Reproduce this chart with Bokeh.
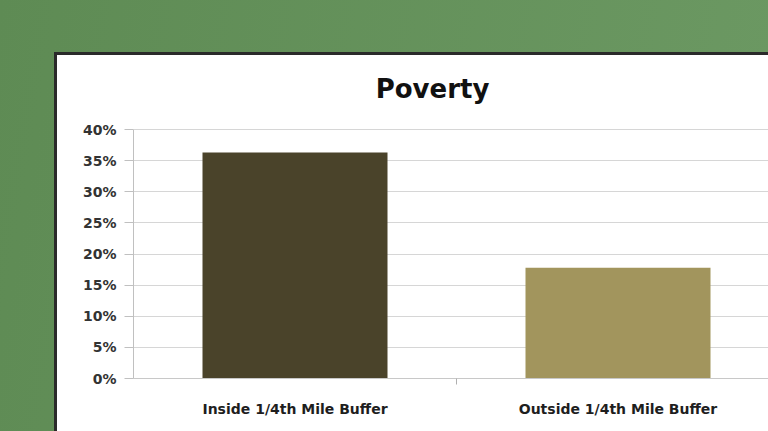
from bokeh.plotting import figure
from bokeh.layouts import column
from bokeh.models import (ColumnDataSource, FixedTicker, NumeralTickFormatter,
                          Range1d, Label)
from bokeh.embed import file_html
from bokeh.resources import INLINE

# ---- data ----
categories = ["Inside 1/4th Mile Buffer", "Outside 1/4th Mile Buffer"]
poverty = [0.363, 0.178]
bar_colors = ["#4a432a", "#a2955d"]
y_ticks = [0.0, 0.05, 0.10, 0.15, 0.20, 0.25, 0.30, 0.35, 0.40]
title_text = "Poverty"

# ---- layout constants ----
W, H = 768, 431
BOX_L, BOX_T = 54, 52          # dark edge of the white slide box
EDGE = 3
FIG_W, FIG_H = W - BOX_L, H - BOX_T
CAT_PX = 323.0                 # pixels per category slot
AXIS_X, Y40, Y0 = 133, 129, 378  # page pixels of the y axis, 40% line, 0% line
TITLE_Y = 88                   # page pixel used to place the title label
FRAME_L = AXIS_X - (BOX_L + EDGE)
FRAME_B = (BOX_T + EDGE + FIG_H) - Y0
frame_h = Y0 - (BOX_T + EDGE)
y_top = 0.40 * frame_h / (Y0 - Y40)
x_end = (FIG_W - FRAME_L) / CAT_PX

FONT = "DejaVu Sans"

x_pos = [i + 0.5 for i in range(len(categories))]
src = ColumnDataSource(dict(x=x_pos, top=poverty, color=bar_colors, name=categories))

p = figure(width=FIG_W, height=FIG_H, output_backend="svg", toolbar_location=None,
           x_range=Range1d(0, x_end), y_range=Range1d(0, y_top),
           min_border_left=FRAME_L, min_border_right=0,
           min_border_top=0, min_border_bottom=FRAME_B)
p.border_fill_color = "white"
p.background_fill_color = "white"
p.outline_line_color = None
p.margin = (BOX_T, 0, 0, BOX_L)
p.styles = {"border-left": f"{EDGE}px solid #2a2a2a",
            "border-top": f"{EDGE}px solid #2a2a2a",
            "background-color": "white"}

p.vbar(x="x", top="top", width=185 / CAT_PX, color="color", source=src,
       line_color=None)

# title, drawn as a label above the 40% line
p.add_layout(Label(x=(432 - AXIS_X) / CAT_PX, y=0.40 * (Y0 - TITLE_Y) / (Y0 - Y40),
                   text=title_text, text_align="center", text_baseline="alphabetic",
                   text_font=FONT, text_font_style="bold", text_font_size="26px",
                   text_color="#111111"))

# y axis
p.yaxis.ticker = FixedTicker(ticks=y_ticks)
p.yaxis.bounds = (0, 0.40)
p.yaxis.formatter = NumeralTickFormatter(format="0%")
p.yaxis.axis_line_color = "#c0c0c0"
p.yaxis.major_tick_line_color = "#c0c0c0"
p.yaxis.major_tick_out = 9
p.yaxis.major_tick_in = 0
p.yaxis.minor_tick_line_color = None
p.yaxis.major_label_standoff = 8
p.yaxis.major_label_text_font = FONT
p.yaxis.major_label_text_font_style = "bold"
p.yaxis.major_label_text_font_size = "14px"
p.yaxis.major_label_text_color = "#333333"

# x axis
p.xaxis.ticker = FixedTicker(ticks=x_pos, minor_ticks=[1.0])
p.xaxis.major_label_overrides = {x: c for x, c in zip(x_pos, categories)}
p.xaxis.axis_line_color = "#c8c8c8"
p.xaxis.major_tick_line_color = None
p.xaxis.major_tick_out = 0
p.xaxis.major_tick_in = 0
p.xaxis.minor_tick_line_color = "#b0b0b0"
p.xaxis.minor_tick_out = 6
p.xaxis.minor_tick_in = 0
p.xaxis.major_label_standoff = 16
p.xaxis.major_label_text_font = FONT
p.xaxis.major_label_text_font_style = "bold"
p.xaxis.major_label_text_font_size = "14px"
p.xaxis.major_label_text_color = "#1e1e1e"

p.xgrid.grid_line_color = None
p.ygrid.ticker = FixedTicker(ticks=y_ticks)
p.ygrid.grid_line_color = "#d6d6d6"
p.ygrid.grid_line_width = 1.2

root = column(p, width=W, height=H,
              styles={"background": "linear-gradient(100deg, #5e8b54 0%, #6c9963 100%)"})

open("out.html", "w").write(file_html(root, INLINE))
